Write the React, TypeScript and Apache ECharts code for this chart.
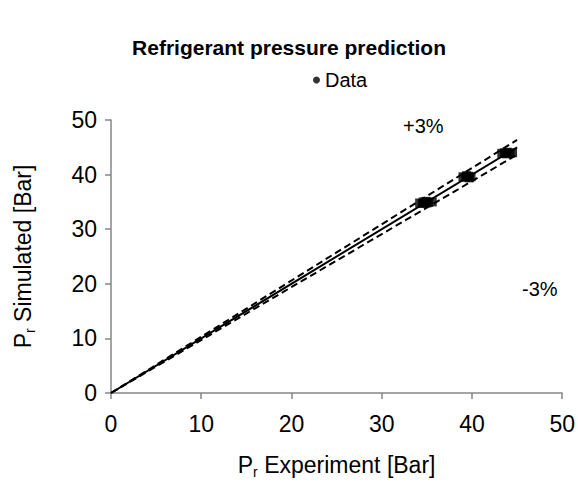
import React, { useEffect, useRef } from "react";
import * as echarts from "echarts";

const dataPoints: number[][] = [
  [34.2, 34.8], [34.6, 35.0], [34.9, 35.1], [35.2, 34.9], [35.6, 35.0], [34.5, 34.7], [35.0, 34.8],
  [39.0, 39.6], [39.3, 39.5], [39.6, 39.7], [39.9, 39.6], [39.4, 39.8], [39.7, 39.4],
  [43.3, 43.9], [43.6, 44.0], [43.9, 44.1], [44.2, 43.9], [44.5, 44.0], [43.8, 43.8],
];
const identityLine: number[][] = [[0, 0], [45, 45]];
const plus3Line: number[][] = [[0, 0], [45, 46.35]];
const minus3Line: number[][] = [[0, 0], [45, 43.65]];
const xTicks = [0, 10, 20, 30, 40, 50];

const FONT = "Liberation Sans, Arial, sans-serif";
const AXIS_COLOR = "#868686";

export default function App() {
  const ref = useRef<HTMLDivElement>(null);
  useEffect(() => {
    if (!ref.current) return;
    const chart = echarts.init(ref.current, null, { renderer: "svg" });
    const axisCommon = {
      type: "value",
      min: xTicks[0],
      max: xTicks[xTicks.length - 1],
      interval: 10,
      splitLine: { show: false },
      axisLine: { show: true, lineStyle: { color: AXIS_COLOR, width: 1.5 } },
      axisTick: { show: true, inside: false, length: 6, lineStyle: { color: AXIS_COLOR, width: 1.5 } },
      axisLabel: { color: "#000", fontFamily: FONT, fontSize: 23 },
      nameLocation: "middle",
    };
    const nameRich = {
      a: { fontFamily: FONT, fontSize: 23, color: "#000" },
      s: { fontFamily: FONT, fontSize: 14, color: "#000", padding: [15, 0, 0, 0] },
    };
    chart.setOption({
      animation: false,
      backgroundColor: "#fff",
      title: {
        text: "Refrigerant pressure prediction",
        left: "center",
        top: 32,
        textStyle: { fontFamily: FONT, fontSize: 21, fontWeight: "bold", color: "#000" },
      },
      legend: {
        data: [{ name: "Data", icon: "circle" }],
        left: 308,
        top: 65,
        itemWidth: 7,
        itemHeight: 7,
        itemGap: 6,
        textStyle: { fontFamily: FONT, fontSize: 20, color: "#000" },
      },
      grid: { left: 111, right: 15, top: 120, bottom: 88 },
      xAxis: {
        ...axisCommon,
        name: "{a|P}{s|r}{a| Experiment [Bar]}",
        nameGap: 57,
        nameTextStyle: { rich: nameRich },
        axisLabel: { ...axisCommon.axisLabel, margin: 19 },
      },
      yAxis: {
        ...axisCommon,
        name: "{a|P}{s|r}{a| Simulated [Bar]}",
        nameGap: 74,
        nameTextStyle: { rich: nameRich },
        axisLabel: { ...axisCommon.axisLabel, margin: 14 },
      },
      series: [
        {
          name: "Data",
          type: "scatter",
          data: dataPoints,
          symbol: "rect",
          symbolSize: 9,
          itemStyle: { color: "#000" },
          z: 5,
        },
        {
          name: "y=x",
          type: "line",
          data: identityLine,
          symbol: "none",
          lineStyle: { color: "#000", width: 2 },
        },
        {
          name: "+3%",
          type: "line",
          data: plus3Line,
          symbol: "none",
          lineStyle: { color: "#000", width: 2, type: [7, 4] },
        },
        {
          name: "-3%",
          type: "line",
          data: minus3Line,
          symbol: "none",
          lineStyle: { color: "#000", width: 2, type: [7, 4] },
        },
      ],
      graphic: [
        {
          type: "text",
          left: 403,
          top: 116,
          style: { text: "+3%", fontFamily: FONT, fontSize: 20, fill: "#000" },
        },
        {
          type: "text",
          left: 522,
          top: 279,
          style: { text: "-3%", fontFamily: FONT, fontSize: 20, fill: "#000" },
        },
      ],
    });
    return () => chart.dispose();
  }, []);
  return <div ref={ref} style={{ width: 578, height: 484, position: "absolute", left: 0, top: 0 }} />;
}
